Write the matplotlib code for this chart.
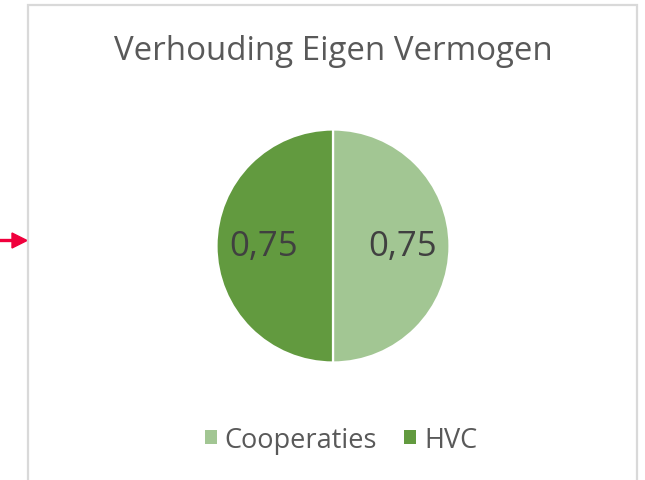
import matplotlib
matplotlib.use("Agg")
import matplotlib.pyplot as plt
from matplotlib.patches import Rectangle, Patch
from matplotlib.lines import Line2D

plt.rcParams['font.family'] = ['Open Sans', 'DejaVu Sans']

categories = ['Cooperaties', 'HVC']
values = [0.75, 0.75]
colors = ['#a2c693', '#629a3f']
title = 'Verhouding Eigen Vermogen'

W, H = 645, 481
fig = plt.figure(figsize=(W / 100, H / 100), dpi=100)
fig.patch.set_facecolor('white')

# chart border
fig.patches.append(Rectangle((28 / W, -0.05), 609 / W, 1.05 - 6 / H,
                             transform=fig.transFigure, fill=False,
                             edgecolor='#d9d9d9', linewidth=1.6))

# red arrow on the left
fig.add_artist(Line2D([0, 14 / W], [1 - 241 / H] * 2, color='#f0003c',
                      linewidth=2.4, transform=fig.transFigure))
fig.add_artist(plt.Polygon([[12 / W, 1 - 234 / H], [27 / W, 1 - 241.5 / H],
                            [12 / W, 1 - 249 / H]], closed=True,
                           color='#f0003c', transform=fig.transFigure))

fig.text(333 / W, 1 - 52 / H, title, ha='center', va='center',
         fontsize=23.8, color='#595959')

cx, cy, r = 333, 247, 116.5
ax = fig.add_axes([(cx - r) / W, 1 - (cy + r) / H, 2 * r / W, 2 * r / H])
wedges, texts, autotexts = ax.pie(
    values, colors=colors, startangle=90, counterclock=False,
    autopct=lambda p: '', pctdistance=0.6,
    wedgeprops=dict(edgecolor='white', linewidth=1.6))
for t, v in zip(autotexts, values):
    t.set_text(('%.2f' % v).replace('.', ','))
    t.set_fontsize(25)
    t.set_color('#404040')
ax.set_xlim(-1, 1)
ax.set_ylim(-1, 1)
ax.set_aspect('equal')
ax.axis('off')

handles = [Patch(facecolor=c, edgecolor='none') for c in colors]
fig.legend(handles, categories, loc='center', bbox_to_anchor=(341 / W, 1 - 441 / H),
           ncol=2, frameon=False, fontsize=19.5, labelcolor='#595959',
           handlelength=0.43, handleheight=0.43, handletextpad=0.3,
           columnspacing=1.0)

fig.savefig('out.png', dpi=100, facecolor='white')
